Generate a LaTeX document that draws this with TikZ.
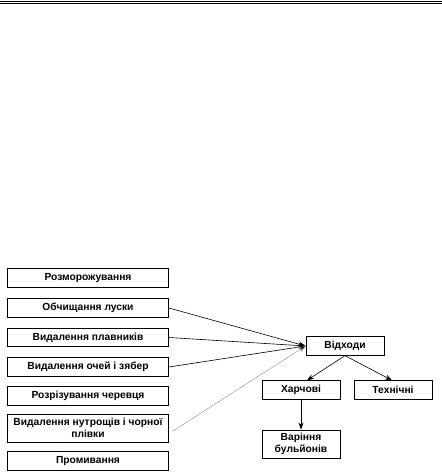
\documentclass[tikz,border=0pt]{standalone}
\usepackage{fontspec}
\setmainfont{Liberation Sans}
\usetikzlibrary{arrows.meta}
\begin{document}
\begin{tikzpicture}[x=1bp,y=-1bp,
  box/.style={draw,line width=0.8pt,inner sep=0pt,minimum width=161bp,minimum height=18.5bp,align=center,font=\bfseries\fontsize{10.3}{11}\selectfont},
  sbox/.style={box,minimum width=78bp},
  twoline/.style={minimum height=28bp,font=\bfseries\fontsize{10.3}{11.5}\selectfont},
  arr/.style={line width=0.6pt,-{Stealth[length=7bp,width=5bp]}},
  thinarr/.style={arr,draw=black!45,line width=0.4pt,-{Stealth[length=7bp,width=5bp,fill=black]}}
]
\useasboundingbox (0,0) rectangle (442,474);
\draw[line width=1.2pt] (0,1.6) -- (442,1.6);
\draw[line width=0.6pt] (0,3.6) -- (442,3.6);

\node[box] (b1) at (88,278) {Розморожування};
\node[box] (b2) at (88,308) {Обчищання луски};
\node[box] (b3) at (88,337.5) {Видалення плавників};
\node[box] (b4) at (88,367) {Видалення очей і зябер};
\node[box] (b5) at (88,396) {Розрізування черевця};
\node[box,twoline] (b6) at (88,428) {Видалення нутрощів і чорної\\плівки};
\node[box] (b7) at (88,461) {Промивання};

\node[sbox] (w) at (345,346) {Відходи};
\node[sbox] (h) at (301,390) {Харчові};
\node[sbox] (t) at (393,390) {Технічні};
\node[sbox,twoline] (v) at (301,444) {Варіння\\бульйонів};

\coordinate (in) at (w.west);
\draw[arr] (b2.east) -- (in);
\draw[arr] (b3.east) -- (in);
\draw[arr] (b4.east) -- (in);
\draw[thinarr] ([xshift=4bp,yshift=-3bp]b6.east) -- (in);
\draw[arr] (w.south) -- ([xshift=6bp]h.north);
\draw[arr] (w.south) -- ([xshift=-1bp]t.north);
\draw[arr] (h.south) -- (v.north);
\end{tikzpicture}
\end{document}
